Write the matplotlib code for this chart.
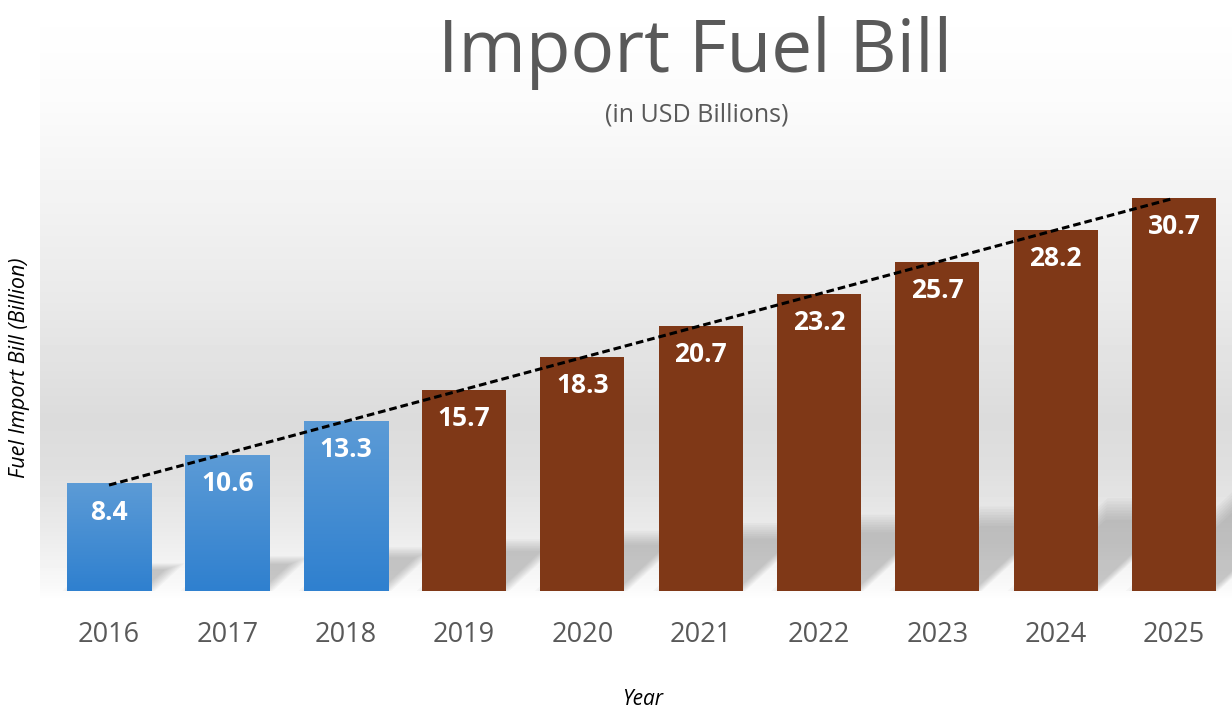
import numpy as np
import matplotlib.pyplot as plt
from matplotlib.patches import Rectangle, Polygon
from matplotlib.colors import LinearSegmentedColormap

plt.rcParams['font.family'] = ['Open Sans', 'DejaVu Sans']

# ---------- data ----------
years = ['2016', '2017', '2018', '2019', '2020', '2021', '2022', '2023', '2024', '2025']
bill = [8.4, 10.6, 13.3, 15.7, 18.3, 20.7, 23.2, 25.7, 28.2, 30.7]
actual = [True, True, True, False, False, False, False, False, False, False]

W, H = 1232, 709
fig = plt.figure(figsize=(W / 100, H / 100), dpi=100)

# ---------- background gradient (chart area only) ----------
bg = fig.add_axes([40 / W, 0, 1 - 40 / W, 1])
bg.set_axis_off()
rows = np.arange(H)
stops_y = [0, 100, 200, 300, 420, 470, 530, 585, 600, H]
stops_v = [1.0, 0.985, 0.95, 0.915, 0.86, 0.875, 0.92, 0.975, 1.0, 1.0]
col = np.interp(rows, stops_y, stops_v)
img = np.repeat(col[:, None], 4, axis=1)
bg.imshow(img, cmap='gray', vmin=0, vmax=1, aspect='auto', extent=[0, 1, 0, 1], origin='upper')
bg.set_xlim(0, 1); bg.set_ylim(0, 1)

# ---------- main axes ----------
base_px, top_px = 591, 140
ax = fig.add_axes([40 / W, (H - base_px) / H, 1 - 40 / W, (base_px - top_px) / H])
ax.patch.set_alpha(0)
ax.set_axis_off()

x = np.arange(len(years))
bw = 0.71
blue_cm = LinearSegmentedColormap.from_list('b', ['#2f80cf', '#5c9bd6'])
brown = '#7f3817'

# soft perspective shadows behind bars
ky, kx = 0.24, 0.028
for xi, h in zip(x, bill):
    xl, xr = xi - bw / 2, xi + bw / 2
    dx, dy = kx * h, ky * h
    pts = np.array([(xl, 0), (xr, 0), (xr + dx, dy), (xl + dx, dy)])
    c = pts.mean(axis=0) - np.array([0, 0.2 * dy])
    for s in np.linspace(1.1, 0.75, 8):
        ax.add_patch(Polygon(c + (pts - c) * s, closed=True, facecolor='#5a5a5a',
                             edgecolor='none', alpha=0.045, zorder=1))

# bars
grad = np.linspace(0, 1, 100)[:, None]
for xi, h, a in zip(x, bill, actual):
    if a:
        r = Rectangle((xi - bw / 2, 0), bw, h, facecolor='none', edgecolor='none', zorder=2)
        ax.add_patch(r)
        im = ax.imshow(grad, cmap=blue_cm, aspect='auto', origin='lower',
                       extent=[xi - bw / 2, xi + bw / 2, 0, h], zorder=2)
        im.set_clip_path(r)
    else:
        ax.bar(xi, h, width=bw, color=brown, zorder=2)

    ax.annotate(f'{h:.1f}', xy=(xi, h), xytext=(0, -26), textcoords='offset points',
                ha='center', va='baseline', color='white', fontsize=19,
                fontweight='bold', zorder=4)
    ax.annotate(years[xi], xy=(xi, 0), xycoords=('data', 'axes fraction'),
                xytext=(0, -37), textcoords='offset points', ha='center',
                va='baseline', color='#595959', fontsize=19.5, annotation_clip=False)

# linear trend line
coef = np.polyfit(x, bill, 1)
ax.plot([x[0], x[-1]], np.polyval(coef, [x[0], x[-1]]), color='black', lw=2.2,
        linestyle=(0, (2.5, 1.3)), zorder=3)

ax.set_xlim((40 - 109) / 118.33, (W - 109) / 118.33)
ax.set_ylim(0, (base_px - top_px) / 12.8)

# ---------- titles & labels ----------
fig.text(695 / W, 1 - 72 / H, 'Import Fuel Bill', ha='center', va='baseline',
         fontsize=52.5, color='#595959')
fig.text(697 / W, 1 - 122 / H, '(in USD Billions)', ha='center', va='baseline',
         fontsize=18, color='#595959')
fig.text(20 / W, 1 - 368 / H, 'Fuel Import Bill (Billion)', rotation=90, ha='center',
         va='center', fontsize=15.5, fontstyle='italic', color='black')
fig.text(643 / W, 1 - 705 / H, 'Year', ha='center', va='baseline', fontsize=15,
         fontstyle='italic', color='black')

fig.savefig('out.png', dpi=100)
